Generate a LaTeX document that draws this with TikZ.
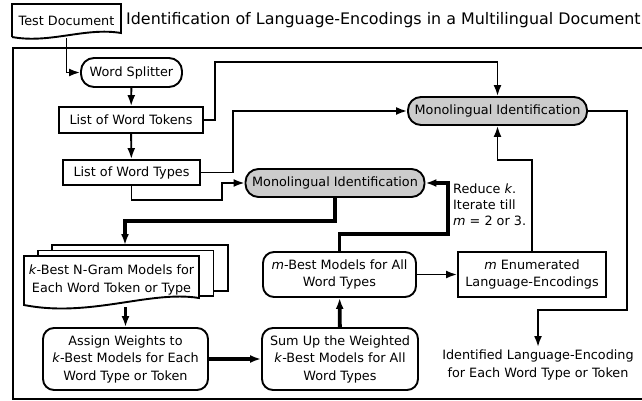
\documentclass[tikz,border=0pt]{standalone}
\usepackage{fontspec}
\setmainfont{DejaVu Sans}
\usepackage{tikz}
\usetikzlibrary{arrows.meta}
\usetikzlibrary{calc}
\usetikzlibrary{positioning}

\begin{document}
\begin{tikzpicture}[x=1pt, y=-1pt, >={Latex[length=11pt,width=8pt]},
  txt/.style={font=\fontsize{12.8}{17.5}\selectfont, align=center, inner sep=0pt},
  line/.style={line width=1.9pt},
  fat/.style={line width=3.9pt},
  listbox/.style={txt, draw, line, rectangle},
  roundbox/.style={txt, draw, line, rounded corners=11pt},
  monobox/.style={txt, draw, line, fill=gray!40, rounded corners=13pt,
    minimum width=179pt, minimum height=28pt}]

  \useasboundingbox (0,0) rectangle (642,401);

%%%%%%%%%%%% Title
  \draw[line] (12,37) -- (12,4) -- (121,4) -- (121,33)
    .. controls (85,27) and (50,44) .. (12,37);
  \node[txt, minimum width=109pt, minimum height=34pt] (testdoc) at (66.5,21) {Test Document};
  \node[txt, anchor=west, font=\fontsize{15.9}{18}\selectfont] (title) at (126,20)
    {Identification of Language-Encodings in a Multilingual Document};

  \draw[line] (650,48) -- (13,48) -- (13,399) -- (650,399);

%%%%%%%%%%%% Splitting
  \node[roundbox, rounded corners=13pt, minimum width=101pt, minimum height=29pt] (split) at (131.5,72.5) {Word Splitter};
  \node[listbox, minimum width=144pt, minimum height=26pt] (tokens) at (131,120) {List of Word Tokens};
  \node[listbox, minimum width=137pt, minimum height=25pt] (types) at (131.5,172.5) {List of Word Types};

  \node[monobox] (monoA) at (497.5,111) {Monolingual Identification};
  \node[monobox] (monoB) at (335,183) {Monolingual Identification};

%%%%%%%%%%%% k-best stack
  \foreach \d in {2,1}
    \draw[line, fill=white] (24+14*\d, 256-5.5*\d) rectangle (199+14.5*\d, 301-5*\d);
  \draw[line, fill=white] (24,305) -- (24,256) -- (199,256) -- (199,298)
    .. controls (150,290) and (90,318) .. (24,305) -- cycle;
  \node[txt, minimum width=175pt, minimum height=54pt] (kbest) at (111.5,280)
    {\textit{k}-Best N-Gram Models for\\Each Word Token or Type};
  \coordinate (kback) at (140,245);

  \node[roundbox, minimum width=165pt, minimum height=62pt] (assign) at (125.5,359)
    {Assign Weights to\\\textit{k}-Best Models for Each\\Word Type or Token};
  \node[roundbox, minimum width=156pt, minimum height=62pt] (sum) at (340,359)
    {Sum Up the Weighted\\\textit{k}-Best Models for All\\Word Types};
  \node[roundbox, minimum width=153pt, minimum height=45pt] (mbest) at (339.5,274.5)
    {\textit{m}-Best Models for All\\Word Types};
  \node[listbox, minimum width=148pt, minimum height=45pt] (menum) at (532,274.5)
    {\textit{m} Enumerated\\Language-Encodings};

  \node[txt, align=left, anchor=west, font=\fontsize{12.8}{16}\selectfont] (note) at (453,205)
    {Reduce \textit{k}.\\Iterate till\\\textit{m} = 2 or 3.};
  \node[txt, anchor=north, inner ysep=3pt] (ident) at (538,347)
    {Identified Language-Encoding\\for Each Word Type or Token};

%%%%%%%%%%%% Connectors
  \coordinate (c1) at (215,62);
  \coordinate (c2) at (233,111);
  \coordinate (c3) at (222,200);
  \coordinate (c4) at (125,221);
  \coordinate (c5) at (448,234);
  \coordinate (c6) at (497.5,160);
  \coordinate (c7) at (627,310);

  \draw[line,->] (testdoc.south) |- (split.west);
  \draw[line,->] (split) -- (tokens);
  \draw[line,->] (tokens) -- (types);
  \draw[line,->] (tokens.east) -| (c1) -| (monoA.north);
  \draw[line,->] (types.east) -| (c2) -- (monoA.west);
  \draw[line,->] (types.south) |- (c3) |- (monoB.west);
  \draw[fat,->] (monoB.south) |- (c4) -- (c4 |- kback);
  \draw[fat,->] (assign.north |- kbest.south) -- (assign.north);
  \draw[fat,->] (assign) -- (sum);
  \draw[fat,->] (sum) -- (mbest);
  \draw[fat,->] (mbest.north) |- (c5) |- (monoB.east);
  \draw[line,->] (mbest) -- (menum);
  \draw[line,->] (menum.north) |- (c6) -- (monoA.south);
  \draw[line,->] (monoA.east) -| (c7) -| (ident.north);
\end{tikzpicture}
\end{document}
